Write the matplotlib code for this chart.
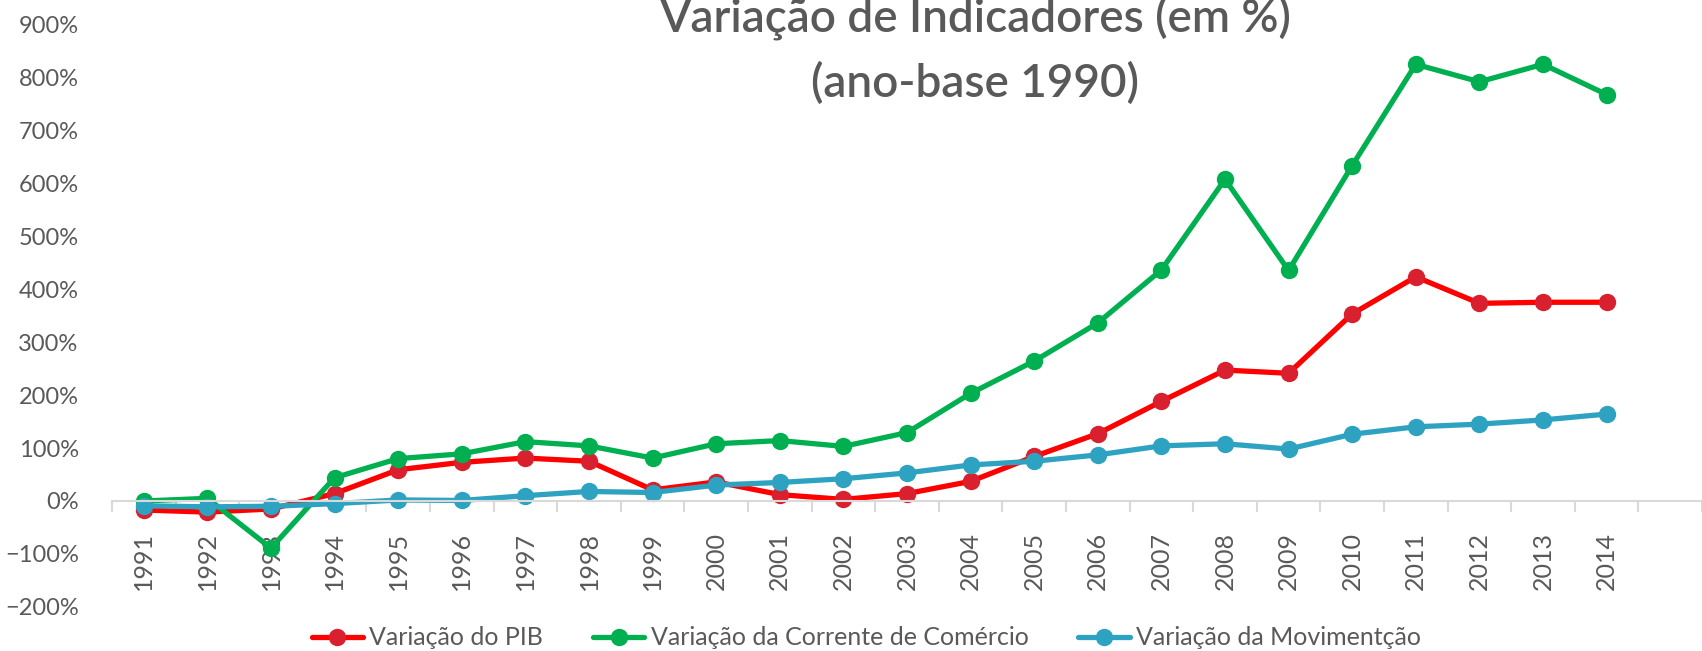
#!/usr/bin/env python
"""Variação de indicadores (ano-base 1990) - line chart."""
import matplotlib
matplotlib.use("Agg")
import matplotlib.pyplot as plt
from matplotlib.ticker import FixedLocator, FuncFormatter

YEARS = [str(y) for y in range(1991, 2015)]

PIB = [-17, -21, -15, 14, 59, 73, 81, 75, 21, 36, 12, 3, 14, 37, 84, 127, 188,
       247, 241, 353, 423, 373, 375, 375]
CORRENTE = [0, 5, -89, 44, 80, 89, 112, 104, 81, 108, 114, 103, 129, 203, 264,
            336, 436, 607, 435, 633, 824, 791, 824, 767]
MOVIMENTACAO = [-9, -11, -10, -5, 2, 1, 10, 18, 16, 30, 35, 42, 53, 68, 75, 87,
                104, 108, 98, 126, 140, 145, 153, 164]

LABELS = ["Variação do PIB", "Variação da Corrente de Comércio",
          "Variação da Movimentção"]
TITLE_1 = "Variação de Indicadores (em %)"
TITLE_2 = "(ano-base 1990)"

TEXT = "#595959"
FONT = ["Lato", "DejaVu Sans"]

plt.rcParams["font.family"] = FONT

fig = plt.figure(figsize=(17.02, 6.51), dpi=100)
ax = fig.add_axes([0.0658, 0.0676, 0.9342, 0.8955])

x = list(range(len(YEARS)))
series = [
    (PIB, "#ff0000", "#d9202e"),
    (CORRENTE, "#00b050", "#00b050"),
    (MOVIMENTACAO, "#2ea3c1", "#2ea3c1"),
]
for (vals, lc, mc), lab in zip(series, LABELS):
    ax.plot(x, vals, color=lc, linewidth=3.8, marker="o", markersize=11.5,
            markerfacecolor=mc, markeredgecolor=mc, label=lab,
            solid_capstyle="round")

ax.set_xlim(-0.5, 24.34)
ax.set_ylim(-200, 900)

# y axis: labels only
ax.yaxis.set_major_locator(FixedLocator(range(-200, 901, 100)))
ax.yaxis.set_major_formatter(FuncFormatter(lambda v, p: f"{v:.0f}%".replace("-", "\u2212")))
ax.tick_params(axis="y", length=0, pad=24, labelsize=17, labelcolor=TEXT)

# x axis crosses at 0, tick marks between categories
for s in ["top", "right", "left"]:
    ax.spines[s].set_visible(False)
ax.spines["bottom"].set_position(("data", 0))
ax.spines["bottom"].set_color("#d9d9d9")
ax.spines["bottom"].set_linewidth(1.5)
ax.set_xticks(x)
ax.set_xticklabels(YEARS, rotation=90)
ax.set_xticks([i - 0.5 for i in range(len(YEARS) + 2)], minor=True)
ax.tick_params(axis="x", which="major", length=0, pad=22, labelsize=18,
               labelcolor=TEXT)
ax.tick_params(axis="x", which="minor", length=8, width=1.5, color="#d9d9d9")

fig.text(0.573, 0.952, TITLE_1, ha="center", va="baseline", fontsize=33,
         color=TEXT, fontweight="semibold")
fig.text(0.573, 0.851, TITLE_2, ha="center", va="baseline", fontsize=33,
         color=TEXT, fontweight="semibold")

fig.legend(loc="center", bbox_to_anchor=(0.509, 0.02), ncol=3, frameon=False,
           fontsize=18, labelcolor=TEXT, handlelength=2.05,
           handletextpad=0.25, columnspacing=2.0)

fig.savefig("out.png", dpi=100)
